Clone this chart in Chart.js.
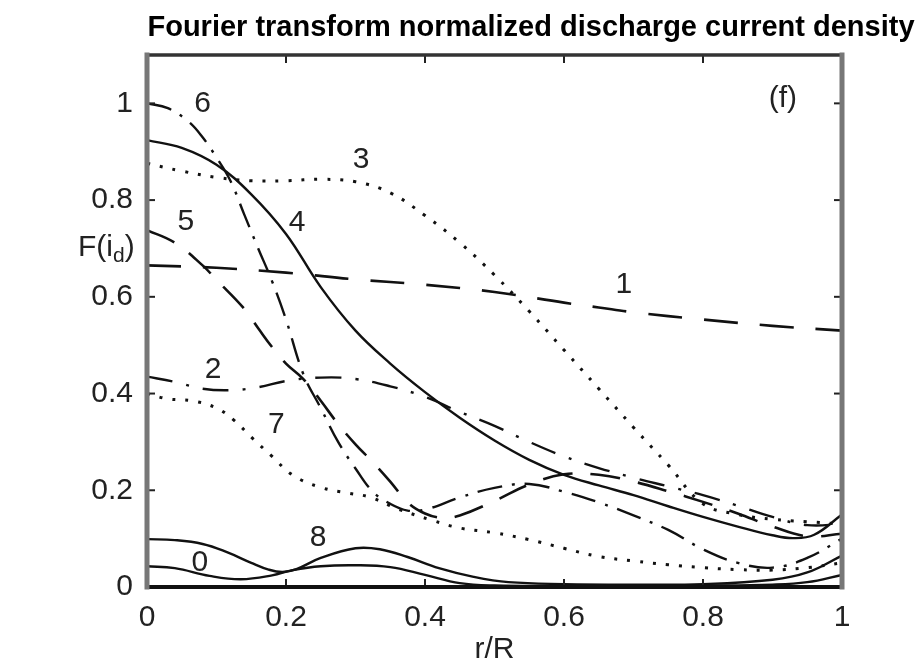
<!DOCTYPE html>
<html>
<head>
<meta charset="utf-8">
<script src="https://cdn.jsdelivr.net/npm/chart.js@4.4.1/dist/chart.umd.min.js"></script>
<style>
html,body{margin:0;padding:0;background:#fff;}
#c{display:block;}
</style>
</head>
<body>
<canvas id="c" width="921" height="668"></canvas>
<script>
// ---- data ----
const chartTitle = 'Fourier transform normalized discharge current density';
const xTickValues = [0, 0.2, 0.4, 0.6, 0.8, 1];
const yTickValues = [0, 0.2, 0.4, 0.6, 0.8, 1];

const c0x = [0,0.04,0.09,0.135,0.18,0.21,0.25,0.3,0.35,0.4,0.45,0.5,0.6,0.7,0.8,0.9,0.95,1.0];
const c0y = [0.043,0.039,0.023,0.016,0.024,0.035,0.043,0.045,0.041,0.025,0.008,0.003,0.002,0.002,0.003,0.005,0.01,0.025];

const c8x = [0,0.04,0.08,0.115,0.15,0.175,0.195,0.215,0.25,0.3,0.335,0.375,0.42,0.47,0.52,0.6,0.7,0.8,0.9,0.95,1.0];
const c8y = [0.099,0.097,0.089,0.072,0.05,0.036,0.031,0.037,0.06,0.08,0.078,0.062,0.039,0.021,0.01,0.006,0.005,0.006,0.015,0.03,0.065];

const c1x = [0,0.1,0.2,0.3,0.4,0.5,0.6,0.65,0.7,0.8,0.9,1.0];
const c1y = [0.665,0.66,0.65,0.636,0.625,0.61,0.588,0.578,0.568,0.553,0.54,0.53];

const c2x = [0,0.04,0.08,0.12,0.16,0.2,0.25,0.3,0.35,0.4,0.45,0.5,0.55,0.6,0.65,0.7,0.75,0.8,0.85,0.9,0.95,1.0];
const c2y = [0.435,0.424,0.41,0.407,0.413,0.426,0.433,0.43,0.415,0.393,0.362,0.333,0.3,0.27,0.246,0.226,0.208,0.19,0.168,0.145,0.128,0.13];

const c3x = [0,0.05,0.1,0.15,0.2,0.25,0.3,0.35,0.4,0.45,0.5,0.55,0.6,0.65,0.7,0.75,0.8,0.85,0.9,0.95,1.0];
const c3y = [0.876,0.86,0.847,0.84,0.84,0.843,0.838,0.815,0.768,0.712,0.645,0.57,0.49,0.41,0.33,0.252,0.172,0.15,0.14,0.135,0.13];

const c4x = [0,0.05,0.1,0.15,0.2,0.25,0.3,0.35,0.4,0.45,0.5,0.55,0.6,0.65,0.7,0.75,0.8,0.85,0.9,0.93,0.96,1.0];
const c4y = [0.924,0.908,0.873,0.812,0.73,0.62,0.53,0.462,0.403,0.35,0.303,0.263,0.232,0.21,0.19,0.167,0.145,0.125,0.107,0.101,0.108,0.15];

const c5x = [0,0.04,0.08,0.1,0.14,0.16,0.18,0.2,0.225,0.25,0.275,0.3,0.325,0.35,0.375,0.4,0.425,0.45,0.5,0.55,0.6,0.65,0.7,0.75,0.8,0.85,0.9,0.95,1.0];
const c5y = [0.738,0.712,0.665,0.635,0.575,0.535,0.496,0.462,0.43,0.385,0.337,0.295,0.258,0.218,0.175,0.152,0.143,0.148,0.178,0.212,0.233,0.232,0.218,0.198,0.176,0.152,0.125,0.105,0.11];

const c6x = [0,0.03,0.06,0.08,0.1,0.12,0.14,0.16,0.18,0.2,0.225,0.25,0.275,0.3,0.325,0.35,0.375,0.4,0.45,0.5,0.55,0.6,0.65,0.7,0.75,0.8,0.85,0.9,0.95,1.0];
const c6y = [1.0,0.99,0.962,0.93,0.888,0.84,0.77,0.70,0.632,0.553,0.44,0.37,0.30,0.245,0.197,0.172,0.158,0.16,0.185,0.205,0.213,0.197,0.175,0.148,0.118,0.078,0.05,0.04,0.06,0.1];

const c7x = [0,0.03,0.065,0.1,0.125,0.15,0.18,0.21,0.25,0.29,0.32,0.36,0.41,0.45,0.5,0.55,0.6,0.65,0.7,0.75,0.8,0.85,0.9,0.95,1.0];
const c7y = [0.40,0.389,0.385,0.37,0.345,0.31,0.27,0.231,0.206,0.194,0.186,0.162,0.138,0.122,0.112,0.098,0.08,0.063,0.054,0.046,0.04,0.036,0.035,0.04,0.05];

const curveLabels = ['0','1','2','3','4','5','6','7','8','(f)'];
const curveLabelX = [0.076,0.686,0.095,0.308,0.216,0.056,0.08,0.186,0.246,0.915];
const curveLabelY = [0.05,0.624,0.45,0.884,0.754,0.756,1.0,0.335,0.101,1.01];

// ---- styling ----
const INK = '#111';
const FONT = '"Liberation Sans", Arial, Helvetica, sans-serif';
const SOLID = [];
const LONGDASH = [34, 22];
const DASH5 = [30, 18];
const DASHDOT = [25, 10, 3, 10];
const DASHDOT2 = [26, 14, 3, 14];
const DOTTED = [3, 10];

function pts(xs, ys){ return xs.map((v,i)=>({x:v, y:ys[i]})); }
function ds(name, xs, ys, dash, w){
  return {label:name, data:pts(xs,ys), borderColor:INK, borderWidth:w, borderDash:dash,
          borderCapStyle:'butt', pointRadius:0, fill:false, tension:0.4};
}

const annot = {
  id:'annot',
  afterDatasetsDraw(chart){
    const {ctx, chartArea:a, scales:{x, y}} = chart;
    ctx.save();
    ctx.strokeStyle = '#222'; ctx.lineWidth = 2; ctx.setLineDash([]);
    const seg=(x1,y1,x2,y2)=>{ctx.beginPath();ctx.moveTo(x1,y1);ctx.lineTo(x2,y2);ctx.stroke();};
    x.ticks.forEach(t=>{
      if (t.value<=x.min || t.value>=x.max) return;
      const p = x.getPixelForValue(t.value);
      seg(p,a.bottom,p,a.bottom-8); seg(p,a.top,p,a.top+8);
    });
    y.ticks.forEach(t=>{
      if (t.value<=y.min || t.value>=y.max) return;
      const p = y.getPixelForValue(t.value);
      seg(a.left,p,a.left+8,p); seg(a.right,p,a.right-8,p);
    });
    ctx.lineCap='square';
    ctx.strokeStyle='#333'; ctx.lineWidth=3.5; seg(a.left,a.top,a.right,a.top);
    ctx.strokeStyle='#111'; ctx.lineWidth=4; seg(a.left,a.bottom,a.right,a.bottom);
    ctx.strokeStyle='#777'; ctx.lineWidth=5; seg(a.left,a.top,a.left,a.bottom); seg(a.right,a.top,a.right,a.bottom);
    ctx.fillStyle='#222'; ctx.font='30px '+FONT; ctx.textAlign='center'; ctx.textBaseline='middle';
    curveLabels.forEach((s,i)=>ctx.fillText(s, x.getPixelForValue(curveLabelX[i]), y.getPixelForValue(curveLabelY[i])));
    ctx.textAlign='left'; ctx.textBaseline='alphabetic';
    let px = 78, base = y.getPixelForValue(0.7)+8;
    ctx.font='30px '+FONT; ctx.fillText('F(i', px, base); px += ctx.measureText('F(i').width;
    ctx.font='21px '+FONT; ctx.fillText('d', px, base+6); px += ctx.measureText('d').width;
    ctx.font='30px '+FONT; ctx.fillText(')', px, base);
    ctx.font='bold 29px '+FONT; ctx.fillStyle='#000'; ctx.textAlign='center'; ctx.textBaseline='middle';
    ctx.fillText(chartTitle, 531, 28);
    ctx.restore();
  }
};

new Chart(document.getElementById('c'), {
  type:'line',
  data:{ datasets:[
    ds('0', c0x, c0y, SOLID, 2.4),
    ds('8', c8x, c8y, SOLID, 2.4),
    ds('1', c1x, c1y, LONGDASH, 2.6),
    ds('2', c2x, c2y, DASHDOT2, 2.4),
    ds('3', c3x, c3y, DOTTED, 3),
    ds('4', c4x, c4y, SOLID, 2.4),
    ds('5', c5x, c5y, DASH5, 2.6),
    ds('6', c6x, c6y, DASHDOT, 2.4),
    ds('7', c7x, c7y, DOTTED, 3)
  ]},
  options:{
    responsive:false, animation:false,
    layout:{padding:{left:0, right:79, top:55, bottom:0}},
    plugins:{legend:{display:false}, title:{display:false}, tooltip:{enabled:false}},
    scales:{
      x:{type:'linear', min:0, max:1,
         afterFit(s){ s.height = 81; },
         afterBuildTicks(s){ s.ticks = xTickValues.map(v=>({value:v})); },
         grid:{display:false, drawTicks:false}, border:{display:false},
         ticks:{padding:13, color:'#222', font:{family:FONT, size:30}, maxRotation:0, autoSkip:false,
                callback:(v)=>String(v)},
         title:{display:true, text:'r/R', color:'#222', font:{family:FONT, size:30}, padding:{top:0,bottom:0}}
      },
      y:{type:'linear', min:0, max:1.1,
         afterFit(s){ s.width = 147; },
         afterBuildTicks(s){ s.ticks = yTickValues.map(v=>({value:v})); },
         grid:{display:false, drawTicks:false}, border:{display:false},
         ticks:{padding:14, color:'#222', font:{family:FONT, size:30}, autoSkip:false,
                callback:(v)=>String(v)}
      }
    }
  },
  plugins:[annot]
});
</script>
</body>
</html>
